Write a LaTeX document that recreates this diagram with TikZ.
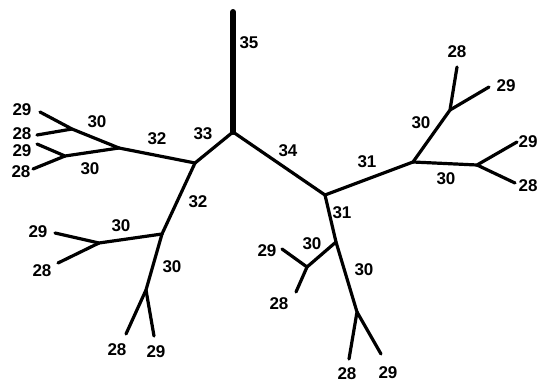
\documentclass[tikz,border=0pt]{standalone}
\usepackage{fontspec}
\setmainfont{Liberation Sans}
\usetikzlibrary{positioning}
\tikzset{
  branch/.style={draw=black, line width=3.2pt, line cap=round, line join=round},
  trunk/.style={draw=black, line width=6pt, line cap=round},
  wt/.style={inner sep=0pt, font=\fontsize{17}{19}\selectfont\bfseries},
}

\begin{document}
\begin{tikzpicture}[x=1pt, y=-1pt]
  \useasboundingbox (0,0) rectangle (539,383);

  % junctions
  \coordinate (top)  at (233,12);
  \coordinate (root) at (233,132);
  \coordinate (L)    at (195,163);
  \coordinate (R)    at (325,195);
  \coordinate (LL)   at (119,148);
  \coordinate (A)    at (72,129);
  \coordinate (B)    at (65,156);
  \coordinate (LD)   at (162,234);
  \coordinate (C)    at (99,243);
  \coordinate (D)    at (146,290);
  \coordinate (RR)   at (413,162);
  \coordinate (E)    at (450,110);
  \coordinate (F)    at (477,165);
  \coordinate (RD)   at (336,242);
  \coordinate (G)    at (307,267);
  \coordinate (H)    at (357,312);

  % leaves
  \coordinate (a29) at (40,112);
  \coordinate (a28) at (37,135);
  \coordinate (b29) at (37,144);
  \coordinate (b28) at (33,169);
  \coordinate (c29) at (55,233);
  \coordinate (c28) at (58,263);
  \coordinate (d28) at (126,334);
  \coordinate (d29) at (154,336);
  \coordinate (e28) at (457,67);
  \coordinate (e29) at (489,87);
  \coordinate (f29) at (517,142);
  \coordinate (f28) at (515,183);
  \coordinate (g29) at (282,249);
  \coordinate (g28) at (296,292);
  \coordinate (h28) at (349,359);
  \coordinate (h29) at (381,354);

  \draw[trunk] (top) -- (root);
  \draw[branch] (L) -- (root) -- (R);
  \draw[branch] (L) -- (LL);
  \draw[branch] (LL) -- (A) -- (a29);
  \draw[branch] (A) -- (a28);
  \draw[branch] (LL) -- (B) -- (b29);
  \draw[branch] (B) -- (b28);
  \draw[branch] (L) -- (LD);
  \draw[branch] (LD) -- (C) -- (c29);
  \draw[branch] (C) -- (c28);
  \draw[branch] (LD) -- (D) -- (d28);
  \draw[branch] (D) -- (d29);
  \draw[branch] (R) -- (RR);
  \draw[branch] (RR) -- (E) -- (e28);
  \draw[branch] (E) -- (e29);
  \draw[branch] (RR) -- (F) -- (f29);
  \draw[branch] (F) -- (f28);
  \draw[branch] (R) -- (RD);
  \draw[branch] (RD) -- (G) -- (g29);
  \draw[branch] (G) -- (g28);
  \draw[branch] (RD) -- (H) -- (h28);
  \draw[branch] (H) -- (h29);

  % branch numbers
  \node[wt] (n35)  at (249,43)  {35};
  \node[wt] (n33)  at (203,134) {33};
  \node[wt] (n34)  at (288,151) {34};
  \node[wt] (n32a) at (157,139) {32};
  \node[wt] (n32b) at (198,202) {32};
  \node[wt] (n30a) at (97,122)  {30};
  \node[wt] (n30b) at (90,169)  {30};
  \node[wt] (n30c) at (121,226) {30};
  \node[wt] (n30d) at (172,267) {30};
  \node[wt] (n31a) at (367,162) {31};
  \node[wt] (n31b) at (342,213) {31};
  \node[wt] (n30e) at (421,123) {30};
  \node[wt] (n30f) at (446,179) {30};
  \node[wt] (n30g) at (312,244) {30};
  \node[wt] (n30h) at (364,270) {30};

  % leaf numbers
  \node[wt] (la29) at (22,110)  {29};
  \node[wt] (la28) at (22,134)  {28};
  \node[wt] (lb29) at (22,151)  {29};
  \node[wt] (lb28) at (21,172)  {28};
  \node[wt] (lc29) at (38,232)  {29};
  \node[wt] (lc28) at (42,271)  {28};
  \node[wt] (ld28) at (117,350) {28};
  \node[wt] (ld29) at (156,352) {29};
  \node[wt] (le28) at (457,52)  {28};
  \node[wt] (le29) at (506,86)  {29};
  \node[wt] (lf29) at (528,142) {29};
  \node[wt] (lf28) at (528,186) {28};
  \node[wt] (lg29) at (267,251) {29};
  \node[wt] (lg28) at (279,304) {28};
  \node[wt] (lh28) at (347,374) {28};
  \node[wt] (lh29) at (388,373) {29};

\end{tikzpicture}
\end{document}
